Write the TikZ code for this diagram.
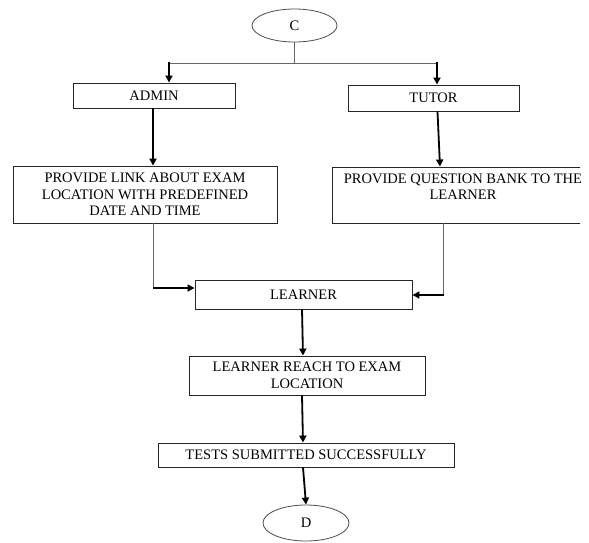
\documentclass[tikz,border=0pt]{standalone}
\usepackage{fontspec}
\setmainfont{Liberation Serif}
\usetikzlibrary{arrows.meta,shapes.geometric,calc}
\begin{document}
\begin{tikzpicture}[x=1pt,y=-1pt,
  box/.style={draw=black!85,line width=0.9pt,rectangle,inner sep=0pt,align=center,font=\fontsize{14.5}{16.5}\selectfont},
  term/.style={draw=black!70,line width=0.8pt,ellipse,inner sep=0pt,font=\fontsize{14.5}{16.5}\selectfont},
  thin/.style={draw=black!60,line width=0.9pt},
  arr/.style={draw=black,line width=1.8pt,-{Triangle[length=7pt,width=7pt]}}
]
\useasboundingbox (0,0) rectangle (589,542);
\begin{scope}
\clip (0,0) rectangle (580,542);
\node[term,minimum width=85,minimum height=33] (C) at (294.5,25.5) {C};
\node[box,minimum width=162,minimum height=25] (admin) at (154,95.5) {ADMIN};
\node[box,minimum width=171,minimum height=26] (tutor) at (433.5,98) {TUTOR};
\node[box,minimum width=264,minimum height=57] (link) at (145,194.5) {PROVIDE LINK ABOUT EXAM\\LOCATION WITH PREDEFINED\\DATE AND TIME};
\node[box,minimum width=262,minimum height=56] (quest) at (463,195) {PROVIDE QUESTION BANK TO THE\\LEARNER\\\mbox{}};
\node[box,minimum width=217,minimum height=29] (learner) at (303.5,294.5) {LEARNER};
\node[box,minimum width=236,minimum height=39] (reach) at (307,375.5) {LEARNER REACH TO EXAM\\LOCATION};
\node[box,minimum width=296,minimum height=24] (tests) at (306,455) {TESTS SUBMITTED SUCCESSFULLY};
\node[term,minimum width=86,minimum height=36] (D) at (306,523) {D};

\coordinate (j) at (294.5,63);
\draw[thin] (C.south) -- (j);
\draw[thin] (j) -- (169,63);
\draw[thin] (j) -- (437,63);
\draw[arr] (169,62) -- ([xshift=15]admin.north);
\draw[arr] (437,62) -- ([xshift=3.5]tutor.north);
\draw[arr] ([xshift=-1]admin.south) -- ([xshift=8]link.north);
\draw[arr] ([xshift=4]tutor.south) -- ([xshift=-23]quest.north);
\coordinate (l1) at ([xshift=8]link.south);
\coordinate (l2) at (l1 |- 0,288);
\draw[thin] (l1) -- (l2);
\draw[arr] (l2) -- (learner.west |- l2);
\coordinate (q1) at ([xshift=-20]quest.south);
\coordinate (q2) at (q1 |- 0,295);
\draw[thin] (q1) -- (q2);
\draw[arr] ([xshift=0.5]q2) -- (learner.east |- q2);
\draw[arr] ([xshift=-1.5]learner.south) -- ([xshift=-4]reach.north);
\draw[arr] ([xshift=-5]reach.south) -- ([xshift=-3]tests.north);
\draw[arr] ([xshift=-3]tests.south) -- (D.north);
\end{scope}
\end{tikzpicture}
\end{document}
